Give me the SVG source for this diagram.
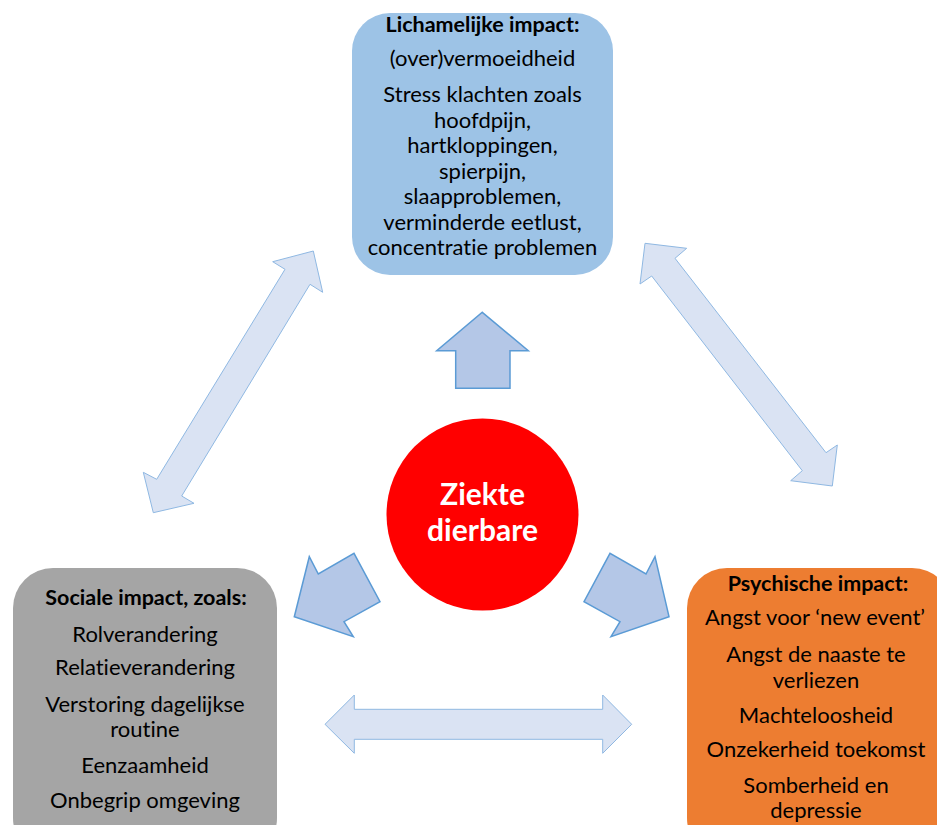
<svg xmlns="http://www.w3.org/2000/svg" width="937" height="825" viewBox="0 0 937 825">
  <style>
    .txt { font-family: Lato, "Liberation Sans", sans-serif; font-size: 22px; fill: #000; text-anchor: middle; font-variant-ligatures: none; }
    .hdr { font-weight: bold; font-size: 21.5px; }
    .center { font-family: Lato, "Liberation Sans", sans-serif; font-size: 30px; font-weight: bold; fill: #fff; text-anchor: middle; }
    .dbl { fill: #DAE3F3; stroke: #8FB8E2; stroke-width: 1; stroke-linejoin: miter; }
    .out { fill: #B4C7E7; stroke: #5B9BD5; stroke-width: 1.5; stroke-linejoin: miter; }
  </style>

  <rect width="937" height="825" fill="#fff"/>

  <!-- connectors: double arrows between the impact boxes and arrows out of the centre -->
  <g id="connectors">
    <polygon class="dbl" points="313.3,251 322.7,292.3 310,284.3 181.7,496 194,503.3 153.3,512.7 143.3,472.3 156.7,479.3 285,269.3 272.7,261.7"/>
    <polygon class="dbl" points="645,243.3 686.7,248.3 675,258.3 826,452.7 837.3,445 832.3,486 790.7,480.7 802.3,470.7 651.7,276 640,284"/>
    <polygon class="dbl" points="325,724.3 354.3,695 354.3,709.3 602.7,709.3 602.7,695 631.7,724.3 602.7,753.3 602.7,739.3 354.3,739.3 354.3,753.3"/>
    <polygon class="out" points="482.3,312.3 528.3,350.7 510,350.7 510,388.3 455.7,388.3 455.7,350.7 436.7,350.7"/>
    <polygon class="out" points="294.3,616.7 309.3,556.7 318.3,574 354,553.3 380,601.7 344,621.7 353.3,636.7"/>
    <polygon class="out" points="669,616.7 655,556.7 646,574 610,553.3 584,601.7 620,621.7 611,636.7"/>
  </g>

  <g id="lichamelijk">
    <rect x="352" y="13" width="261" height="262" rx="38" ry="38" fill="#9DC3E6"/>
    <text class="txt hdr" x="482.5" y="32">Lichamelijke impact:</text>
    <text class="txt" x="482.5" y="66">(over)vermoeidheid</text>
    <text class="txt" x="482.5" y="102">Stress klachten zoals</text>
    <text class="txt" x="482.5" y="127.5">hoofdpijn,</text>
    <text class="txt" x="482.5" y="153">hartkloppingen,</text>
    <text class="txt" x="482.5" y="178.5">spierpijn,</text>
    <text class="txt" x="482.5" y="204">slaapproblemen,</text>
    <text class="txt" x="482.5" y="229.5">verminderde eetlust,</text>
    <text class="txt" x="482.5" y="255">concentratie problemen</text>
  </g>

  <g id="sociaal">
    <rect x="13" y="568" width="264" height="290" rx="40" ry="40" fill="#A5A5A5"/>
    <text class="txt hdr" x="146" y="605">Sociale impact, zoals:</text>
    <text class="txt" x="145" y="642">Rolverandering</text>
    <text class="txt" x="145" y="675">Relatieverandering</text>
    <text class="txt" x="145" y="712">Verstoring dagelijkse</text>
    <text class="txt" x="145" y="737">routine</text>
    <text class="txt" x="145" y="773">Eenzaamheid</text>
    <text class="txt" x="145" y="808">Onbegrip omgeving</text>
  </g>

  <g id="psychisch">
    <rect x="687" y="568" width="265" height="290" rx="40" ry="40" fill="#ED7D31"/>
    <text class="txt hdr" x="818" y="591">Psychische impact:</text>
    <text class="txt" x="815" y="625">Angst voor ‘new event’</text>
    <text class="txt" x="816" y="662">Angst de naaste te</text>
    <text class="txt" x="816" y="688">verliezen</text>
    <text class="txt" x="816" y="723">Machteloosheid</text>
    <text class="txt" x="816" y="757">Onzekerheid toekomst</text>
    <text class="txt" x="816" y="793">Somberheid en</text>
    <text class="txt" x="816" y="818">depressie</text>
  </g>

  <g id="ziekte">
    <circle cx="482.5" cy="514.5" r="96" fill="#FF0000"/>
    <text class="center" x="482.5" y="505">Ziekte</text>
    <text class="center" x="482.5" y="541">dierbare</text>
  </g>
</svg>
